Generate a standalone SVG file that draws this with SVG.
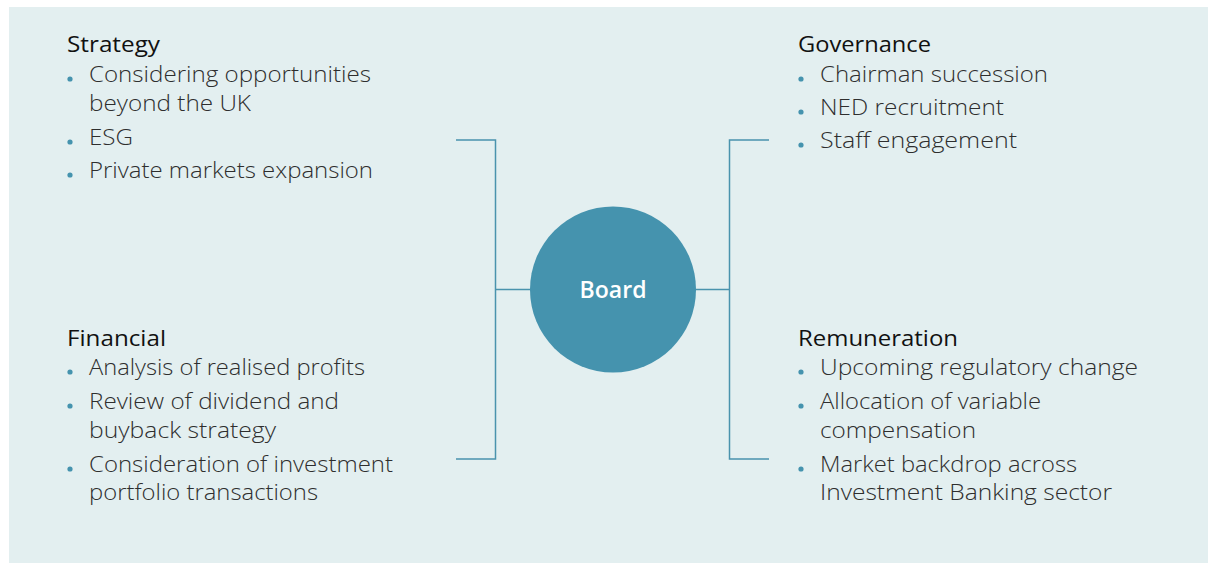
<svg xmlns="http://www.w3.org/2000/svg" width="1208" height="563" viewBox="0 0 1208 563">
<style>
.t{font-family:"Open Sans","Noto Sans","Liberation Sans",sans-serif;font-size:22px;font-weight:500;fill:#111}
.b{font-family:"Open Sans","Noto Sans","Liberation Sans",sans-serif;font-size:21.5px;font-weight:300;fill:#2e2e2e}
.d{fill:#4593ae}
.c{fill:none;stroke:#4a93ad;stroke-width:1.5}
</style>
<rect x="9" y="7" width="1199" height="556" fill="#e3eff0"/>
<g id="connectors">
<path class="c" d="M456 140H495.5V459H456M495.5 289.5H531"/>
<path class="c" d="M769 140H729.5V459H769M729.5 289.5H695"/>
</g>
<g id="board">
<circle cx="613" cy="289.5" r="83" fill="#4593ae"/>
<text x="613" y="298" text-anchor="middle" font-family="'Open Sans','Noto Sans',sans-serif" font-size="23" font-weight="600" fill="#fff" textLength="67" lengthAdjust="spacingAndGlyphs">Board</text>
</g>
<g id="strategy">
<text class="t" x="67" y="52" textLength="93" lengthAdjust="spacingAndGlyphs">Strategy</text>
<circle class="d" cx="70" cy="79" r="2.6"/>
<text class="b" x="89" y="82" textLength="282" lengthAdjust="spacingAndGlyphs">Considering opportunities</text>
<text class="b" x="89" y="111" textLength="162" lengthAdjust="spacingAndGlyphs">beyond the UK</text>
<circle class="d" cx="70" cy="142" r="2.6"/>
<text class="b" x="89" y="145" textLength="44" lengthAdjust="spacingAndGlyphs">ESG</text>
<circle class="d" cx="70" cy="175" r="2.6"/>
<text class="b" x="89" y="178" textLength="284" lengthAdjust="spacingAndGlyphs">Private markets expansion</text>
</g>
<g id="governance">
<text class="t" x="798" y="52" textLength="133" lengthAdjust="spacingAndGlyphs">Governance</text>
<circle class="d" cx="801" cy="79" r="2.6"/>
<text class="b" x="820" y="82" textLength="228" lengthAdjust="spacingAndGlyphs">Chairman succession</text>
<circle class="d" cx="801" cy="112" r="2.6"/>
<text class="b" x="820" y="115" textLength="184" lengthAdjust="spacingAndGlyphs">NED recruitment</text>
<circle class="d" cx="801" cy="145" r="2.6"/>
<text class="b" x="820" y="148" textLength="197" lengthAdjust="spacingAndGlyphs">Staff engagement</text>
</g>
<g id="financial">
<text class="t" x="67" y="346" textLength="99" lengthAdjust="spacingAndGlyphs">Financial</text>
<circle class="d" cx="70" cy="372" r="2.6"/>
<text class="b" x="89" y="375" textLength="276" lengthAdjust="spacingAndGlyphs">Analysis of realised profits</text>
<circle class="d" cx="70" cy="406" r="2.6"/>
<text class="b" x="89" y="409" textLength="250" lengthAdjust="spacingAndGlyphs">Review of dividend and</text>
<text class="b" x="89" y="438" textLength="187" lengthAdjust="spacingAndGlyphs">buyback strategy</text>
<circle class="d" cx="70" cy="469" r="2.6"/>
<text class="b" x="89" y="472" textLength="304" lengthAdjust="spacingAndGlyphs">Consideration of investment</text>
<text class="b" x="89" y="500" textLength="229" lengthAdjust="spacingAndGlyphs">portfolio transactions</text>
</g>
<g id="remuneration">
<text class="t" x="798" y="346" textLength="160" lengthAdjust="spacingAndGlyphs">Remuneration</text>
<circle class="d" cx="801" cy="372" r="2.6"/>
<text class="b" x="820" y="375" textLength="318" lengthAdjust="spacingAndGlyphs">Upcoming regulatory change</text>
<circle class="d" cx="801" cy="406" r="2.6"/>
<text class="b" x="820" y="409" textLength="221" lengthAdjust="spacingAndGlyphs">Allocation of variable</text>
<text class="b" x="820" y="438" textLength="156" lengthAdjust="spacingAndGlyphs">compensation</text>
<circle class="d" cx="801" cy="469" r="2.6"/>
<text class="b" x="820" y="472" textLength="257" lengthAdjust="spacingAndGlyphs">Market backdrop across</text>
<text class="b" x="820" y="500" textLength="292" lengthAdjust="spacingAndGlyphs">Investment Banking sector</text>
</g>
</svg>
